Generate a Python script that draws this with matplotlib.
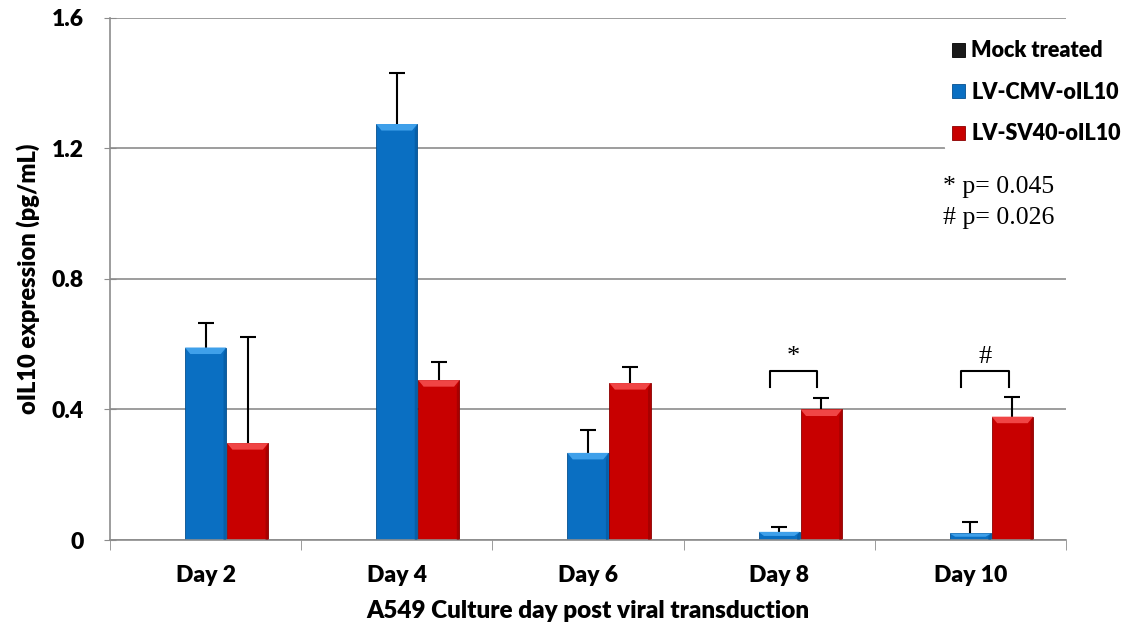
import numpy as np
import matplotlib.pyplot as plt
from matplotlib.patches import Polygon

days = ["Day 2", "Day 4", "Day 6", "Day 8", "Day 10"]
series = ["Mock treated", "LV-CMV-oIL10", "LV-SV40-oIL10"]
mock = [0, 0, 0, 0, 0]
mock_err = [0, 0, 0, 0, 0]
cmv = [0.59, 1.275, 0.267, 0.025, 0.02]
cmv_err = [0.074, 0.156, 0.07, 0.016, 0.036]
sv40 = [0.297, 0.49, 0.481, 0.40, 0.378]
sv40_err = [0.325, 0.056, 0.049, 0.034, 0.061]
stats_text = ["* p= 0.045", "# p= 0.026"]

colors = ["#1a1a1a", "#0a6fc2", "#c80000"]
light = ["#555555", "#3fa0ea", "#f04545"]
dark = ["#000000", "#05508f", "#8a0000"]

plt.rcParams["font.family"] = ["Lato", "DejaVu Sans"]

fig = plt.figure(figsize=(11.36, 6.35), dpi=100)
ax = fig.add_axes([0.0968, 0.1496, 0.8416, 0.8221])

x = np.arange(len(days))
w = 0.22
offsets = [-w, 0, w]


def bevel(ax, bar, i):
    # little 3d look: lighter top face, darker right edge
    x0, y0 = bar.get_x(), bar.get_y()
    bw, bh = bar.get_width(), bar.get_height()
    if bh <= 0:
        return
    dx = 0.028
    dy = min(0.02, bh / 2)
    top = Polygon([(x0, y0 + bh), (x0 + bw, y0 + bh),
                   (x0 + bw - dx, y0 + bh - dy), (x0 + dx, y0 + bh - dy)],
                  closed=True, facecolor=light[i], edgecolor="none", zorder=3)
    right = Polygon([(x0 + bw, y0), (x0 + bw, y0 + bh),
                     (x0 + bw - dx * 0.5, y0 + bh - dy), (x0 + bw - dx * 0.5, y0)],
                    closed=True, facecolor=dark[i], edgecolor="none", alpha=0.5, zorder=3)
    ax.add_patch(top)
    ax.add_patch(right)


for i, (vals, errs) in enumerate([(mock, mock_err), (cmv, cmv_err), (sv40, sv40_err)]):
    bars = ax.bar(x + offsets[i], vals, w * 0.98, color=colors[i], edgecolor=dark[i],
                  linewidth=0.6, label=series[i], zorder=2)
    for b in bars:
        bevel(ax, b, i)
    shown = [v > 0 for v in vals]
    # drawn behind the bars so only the upper half shows
    ax.errorbar((x + offsets[i])[shown], np.array(vals)[shown],
                yerr=np.array(errs)[shown],
                fmt="none", ecolor="black", elinewidth=1.5, capsize=6, capthick=1.5, zorder=1.8)

# significance brackets over day 8 and day 10
for d, mark in [(3, "*"), (4, "#")]:
    xl, xr = d - 0.05, d + 0.2
    yb, yt = 0.47, 0.517
    ax.plot([xl, xl, xr, xr], [yb, yt, yt, yb], color="black", lw=1.5, zorder=4)
    ax.text((xl + xr) / 2, 0.56, mark, ha="center", va="center",
            fontsize=19, family=["Liberation Serif"])

ax.text(0.988, 0.697, stats_text[0] + "\n" + stats_text[1], transform=ax.transAxes,
        ha="right", va="top", fontsize=18.5, family=["Liberation Serif"], linespacing=1.5)

ax.set_ylim(0, 1.6)
ax.set_xlim(-0.5, len(days) - 0.5)
ax.set_yticks([0, 0.4, 0.8, 1.2, 1.6])
ax.set_yticklabels(["0", "0.4", "0.8", "1.2", "1.6"])
ax.yaxis.grid(True, color="#8c8c8c", lw=1.2)
ax.set_axisbelow(True)

ax.set_xticks(x)
ax.set_xticklabels(days)
ax.set_xticks(np.arange(len(days) + 1) - 0.5, minor=True)
ax.tick_params(axis="x", which="major", length=0, pad=18)
ax.tick_params(axis="x", which="minor", length=7, color="#8c8c8c", direction="out")
ax.tick_params(axis="y", length=8, direction="inout", color="#8c8c8c", pad=15)
for lab in ax.get_xticklabels() + ax.get_yticklabels():
    lab.set_fontweight("heavy")
    lab.set_fontsize(16.5)

for s in ["top", "right"]:
    ax.spines[s].set_visible(False)
for s in ["left", "bottom"]:
    ax.spines[s].set_color("#8c8c8c")
    ax.spines[s].set_linewidth(1.2)

ax.set_ylabel("oIL10 expression (pg/mL)", fontsize=17, fontweight="heavy", labelpad=8)
ax.set_xlabel("A549 Culture day post viral transduction", fontsize=17.5, fontweight="heavy", labelpad=10)

leg = ax.legend(loc="upper right", bbox_to_anchor=(1.075, 0.99), frameon=True, framealpha=1,
                edgecolor="white", prop={"weight": "heavy", "size": 15.5},
                handlelength=0.6, handleheight=0.6, handletextpad=0.3, labelspacing=0.95,
                borderpad=0.3)

fig.savefig("out.png", dpi=100)
